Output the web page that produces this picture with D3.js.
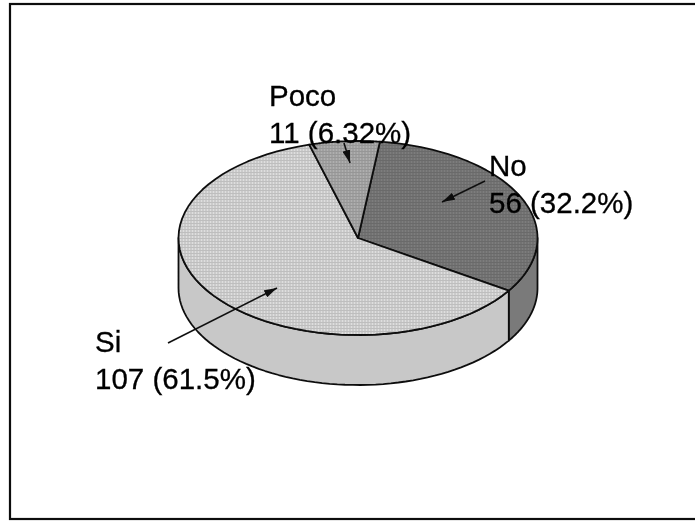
<!DOCTYPE html>
<html>
<head>
<meta charset="utf-8">
<script src="https://cdn.jsdelivr.net/npm/d3@7"></script>
<style>
html,body{margin:0;padding:0;background:#fff;}
text{font-family:"Liberation Sans",Arial,sans-serif;font-size:29.5px;fill:#000;stroke:#000;stroke-width:0.3px;}
</style>
</head>
<body>
<div id="chart"></div>
<script>
var categories=["No","Si","Poco"];
var counts=[56,107,11];
var percents=["32.2%","61.5%","6.32%"];
var topColors={No:"#727272",Si:"#cbcbcb",Poco:"#a0a0a0"};
var sideColors={No:"#7a7a7a",Si:"#c8c8c8"};
var labelPos={No:[489,176],Si:[95,352],Poco:[269,106]};
var leaderLines=[["Poco",344,143,350,163],["No",485,181,442,202],["Si",168,343,277,288]];

var width=695,height=522;
var cx=358,cy=238,rx=179.5,ry=97,depth=50;
var startDeg=7;

var svg=d3.select("#chart").append("svg")
	.attr("width",width)
	.attr("height",height);

//halftone look of the scanned print
var defs=svg.append("defs");
categories.forEach(function(c){
	var p=defs.append("pattern").attr("id","tex"+c)
		.attr("width",3).attr("height",3)
		.attr("patternUnits","userSpaceOnUse");
	p.append("rect").attr("width",3).attr("height",3).attr("fill",topColors[c]);
	p.append("rect").attr("width",1).attr("height",3).attr("fill",d3.rgb(topColors[c]).brighter(0.25));
	p.append("rect").attr("y",1).attr("width",3).attr("height",1).attr("fill",d3.rgb(topColors[c]).darker(0.18));
});
defs.append("filter").attr("id","scan")
	.attr("x","-5%").attr("y","-5%").attr("width","110%").attr("height","110%")
	.append("feGaussianBlur").attr("stdDeviation",0.5);
defs.append("marker").attr("id","head")
	.attr("viewBox","0 0 10 6").attr("refX",10).attr("refY",3)
	.attr("markerUnits","userSpaceOnUse")
	.attr("markerWidth",13).attr("markerHeight",8).attr("orient","auto")
	.append("path").attr("d","M0,0L10,3L0,6Z").attr("fill","#111");

var page=svg.append("g").attr("filter","url(#scan)");

//frame
page.append("rect")
	.attr("x",10).attr("y",4)
	.attr("width",width+20).attr("height",515)
	.attr("fill","#fff").attr("stroke","#111").attr("stroke-width",2.2);

var rad=Math.PI/180;
var pie=d3.pie().sort(null).startAngle(startDeg*rad).endAngle((startDeg+360)*rad);
var slices=pie(counts);
slices.forEach(function(d,i){d.name=categories[i];});

//point on the top ellipse, angle clockwise from 12 o'clock
var ex=function(a){return cx+rx*Math.sin(a);};
var ey=function(a){return cy-ry*Math.cos(a);};
var line=d3.line();
var sweep=function(a0,a1){
	return d3.range(0,61).map(function(k){return a0+(a1-a0)*k/60;});
};
var wall=function(a0,a1){//side of the cylinder between two angles
	var pts=sweep(a0,a1);
	var up=pts.map(function(a){return [ex(a),ey(a)];});
	var down=pts.slice().reverse().map(function(a){return [ex(a),ey(a)+depth];});
	return line(up.concat(down))+"Z";
};
var wedge=function(d){//slice of the top face
	var pts=sweep(d.startAngle,d.endAngle).map(function(a){return [ex(a),ey(a)];});
	return line([[cx,cy]].concat(pts))+"Z";
};

//visible walls: from 3 o'clock to 9 o'clock, split at the No/Si boundary
var split=slices[0].endAngle;
var walls=[
	{name:"No",a0:90*rad,a1:split},
	{name:"Si",a0:split,a1:270*rad}
];
page.selectAll("path.wall").data(walls).enter().append("path")
	.attr("class","wall")
	.attr("d",function(d){return wall(d.a0,d.a1);})
	.attr("fill",function(d){return sideColors[d.name];})
	.attr("stroke","#111").attr("stroke-width",1.8)
	.attr("stroke-linejoin","round");

//top face
page.selectAll("path.top").data(slices).enter().append("path")
	.attr("class","top")
	.attr("d",wedge)
	.attr("fill",function(d){return "url(#tex"+d.name+")";})
	.attr("stroke","#111").attr("stroke-width",1.8)
	.attr("stroke-linejoin","round");

//leader arrows
page.selectAll("line.leader").data(leaderLines).enter().append("line")
	.attr("class","leader")
	.attr("x1",function(d){return d[1];}).attr("y1",function(d){return d[2];})
	.attr("x2",function(d){return d[3];}).attr("y2",function(d){return d[4];})
	.attr("stroke","#111").attr("stroke-width",1.6)
	.attr("marker-end","url(#head)");

//labels
categories.forEach(function(c,i){
	var t=page.append("text").attr("x",labelPos[c][0]).attr("y",labelPos[c][1]);
	t.append("tspan").text(c);
	t.append("tspan").attr("x",labelPos[c][0]).attr("dy",36.5).text(counts[i]+" ("+percents[i]+")");
});
</script>
</body>
</html>
